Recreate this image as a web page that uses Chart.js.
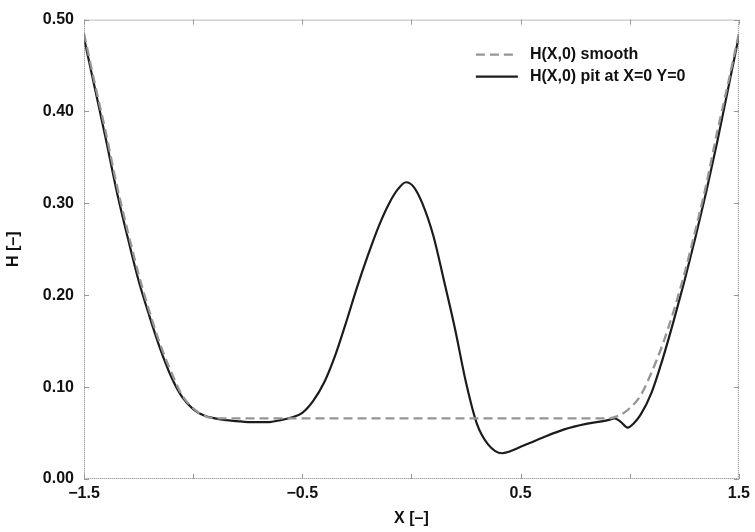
<!DOCTYPE html>
<html>
<head>
<meta charset="utf-8">
<script src="https://cdn.jsdelivr.net/npm/chart.js@4.4.1/dist/chart.umd.min.js"></script>
<style>
  html, body { margin: 0; padding: 0; background: #fff; }
  #wrap { width: 755px; height: 532px; }
</style>
</head>
<body>
<div id="wrap"><canvas id="myChart" width="755" height="532"></canvas></div>
<script>
// film thickness along Y=0
const smoothX = [-1.5, -1.45, -1.4, -1.35, -1.3, -1.25, -1.2, -1.15, -1.1, -1.05, -1.0, -0.95, -0.9, -0.85,
    -0.5, 0, 0.5, 0.85, 0.9, 0.95, 1.0, 1.05, 1.1, 1.15, 1.2, 1.25, 1.3, 1.35, 1.4, 1.45, 1.5];
const smoothH = [0.485, 0.43, 0.377, 0.32, 0.27, 0.223, 0.182, 0.146, 0.116, 0.091, 0.077, 0.069, 0.066, 0.066,
    0.066, 0.066, 0.066, 0.066, 0.066, 0.069, 0.077, 0.091, 0.116, 0.146, 0.182, 0.223, 0.27, 0.32, 0.377, 0.43, 0.485];

const pitX = [-1.5, -1.45, -1.4, -1.35, -1.3, -1.25, -1.2, -1.15, -1.1, -1.05, -1.0, -0.95, -0.9, -0.85, -0.8,
    -0.75, -0.7, -0.65, -0.6, -0.55, -0.5, -0.45, -0.4, -0.35, -0.3, -0.25, -0.2, -0.15, -0.1, -0.06, -0.025,
    0.01, 0.05, 0.1, 0.15, 0.2, 0.25, 0.3, 0.35, 0.415, 0.45, 0.5, 0.6, 0.7, 0.8, 0.9, 0.93, 0.96, 0.99,
    1.02, 1.05, 1.1, 1.15, 1.2, 1.25, 1.3, 1.35, 1.4, 1.45, 1.5];
const pitH = [0.48, 0.425, 0.37, 0.313, 0.263, 0.216, 0.177, 0.141, 0.111, 0.089, 0.076, 0.069, 0.066, 0.064, 0.063,
    0.062, 0.0618, 0.062, 0.064, 0.067, 0.072, 0.085, 0.105, 0.134, 0.17, 0.208, 0.243, 0.275, 0.301, 0.316, 0.323,
    0.318, 0.3, 0.265, 0.215, 0.163, 0.105, 0.06, 0.038, 0.028, 0.030, 0.035, 0.045, 0.054, 0.060, 0.064, 0.066, 0.062, 0.056,
    0.061, 0.07, 0.094, 0.13, 0.171, 0.215, 0.262, 0.312, 0.366, 0.424, 0.482];

const xTicks = [-1.5, -1.0, -0.5, 0, 0.5, 1.0, 1.5];
const yTicks = [0, 0.1, 0.2, 0.3, 0.4, 0.5];

const labels = ['H(X,0) smooth', 'H(X,0) pit at X=0 Y=0'];

const FONT = "'Liberation Sans', Arial, sans-serif";
const FSIZE = 16;

const toPts = (xs, ys) => xs.map((x, i) => ({ x: x, y: ys[i] }));

// box, inward tick marks and the legend inside the plot
const framePlugin = {
    id: 'frame',
    afterDraw(chart) {
        const { ctx, chartArea: a, scales } = chart;
        ctx.save();
        ctx.strokeStyle = '#777';
        ctx.lineWidth = 1;
        ctx.setLineDash([1, 1]);
        ctx.strokeRect(a.left + 0.5, a.top + 0.5, a.right - a.left - 1, a.bottom - a.top - 1);
        ctx.setLineDash([]);
        ctx.strokeStyle = '#999';
        ctx.beginPath();
        yTicks.forEach((v) => {
            const y = Math.round(scales.y.getPixelForValue(v)) + 0.5;
            ctx.moveTo(a.left, y); ctx.lineTo(a.left + 5, y);
            ctx.moveTo(a.right, y); ctx.lineTo(a.right - 5, y);
        });
        xTicks.forEach((v) => {
            const x = Math.round(scales.x.getPixelForValue(v)) + 0.5;
            ctx.moveTo(x, a.bottom); ctx.lineTo(x, a.bottom - 5);
            ctx.moveTo(x, a.top); ctx.lineTo(x, a.top + 5);
        });
        ctx.stroke();

        // legend
        const ds = chart.data.datasets;
        const x0 = a.right - 263, x1 = a.right - 221, tx = a.right - 209;
        ds.forEach((d, i) => {
            const y = a.top + 35 + i * 22;
            ctx.strokeStyle = d.borderColor;
            ctx.lineWidth = d.borderWidth;
            ctx.setLineDash(d.borderDash || []);
            ctx.beginPath();
            ctx.moveTo(x0, y); ctx.lineTo(x1, y);
            ctx.stroke();
            ctx.setLineDash([]);
            ctx.fillStyle = '#111';
            ctx.font = 'bold ' + FSIZE + 'px ' + FONT;
            ctx.textBaseline = 'middle';
            ctx.fillText(d.label, tx, y);
        });
        ctx.restore();
    }
};

const chart = new Chart(document.getElementById('myChart'), {
    type: 'scatter',
    data: {
        datasets: [{
            label: labels[0],
            data: toPts(smoothX, smoothH),
            showLine: true,
            borderColor: '#959595',
            borderWidth: 2.3,
            borderDash: [9, 5],
            pointRadius: 0,
            cubicInterpolationMode: 'monotone'
        }, {
            label: labels[1],
            data: toPts(pitX, pitH),
            showLine: true,
            borderColor: '#1c1c1c',
            borderWidth: 2.2,
            pointRadius: 0,
            cubicInterpolationMode: 'monotone'
        }]
    },
    options: {
        responsive: false,
        animation: false,
        layout: { padding: { left: 0, right: 14, top: 15, bottom: 0 } },
        plugins: {
            legend: { display: false },
            tooltip: { enabled: false }
        },
        scales: {
            x: {
                type: 'linear',
                min: -1.5,
                max: 1.5,
                afterFit: (s) => { s.height = 53; },
                grid: { display: false, drawTicks: false },
                border: { display: false },
                ticks: {
                    stepSize: 0.5,
                    autoSkip: false,
                    maxRotation: 0,
                    padding: 5,
                    color: '#111',
                    font: { family: FONT, size: FSIZE, weight: 'bold' },
                    callback: (v) => Math.abs(v % 1) > 0.01 ? (v < 0 ? '\u2212' + Math.abs(v).toFixed(1) : v.toFixed(1)) : ''
                },
                title: {
                    display: true,
                    text: 'X [\u2013]',
                    color: '#111',
                    padding: { top: 0, bottom: 4 },
                    font: { family: FONT, size: FSIZE, weight: 'bold' }
                }
            },
            y: {
                min: 0,
                max: 0.5,
                afterFit: (s) => { s.width = 84; },
                grid: { display: false, drawTicks: false },
                border: { display: false },
                ticks: {
                    stepSize: 0.1,
                    padding: 10,
                    color: '#111',
                    font: { family: FONT, size: FSIZE, weight: 'bold' },
                    callback: (v) => v.toFixed(2)
                },
                title: {
                    display: true,
                    text: 'H [\u2013]',
                    color: '#111',
                    padding: { top: 4, bottom: 0 },
                    font: { family: FONT, size: FSIZE, weight: 'bold' }
                }
            }
        }
    },
    plugins: [framePlugin]
});
</script>
</body>
</html>
